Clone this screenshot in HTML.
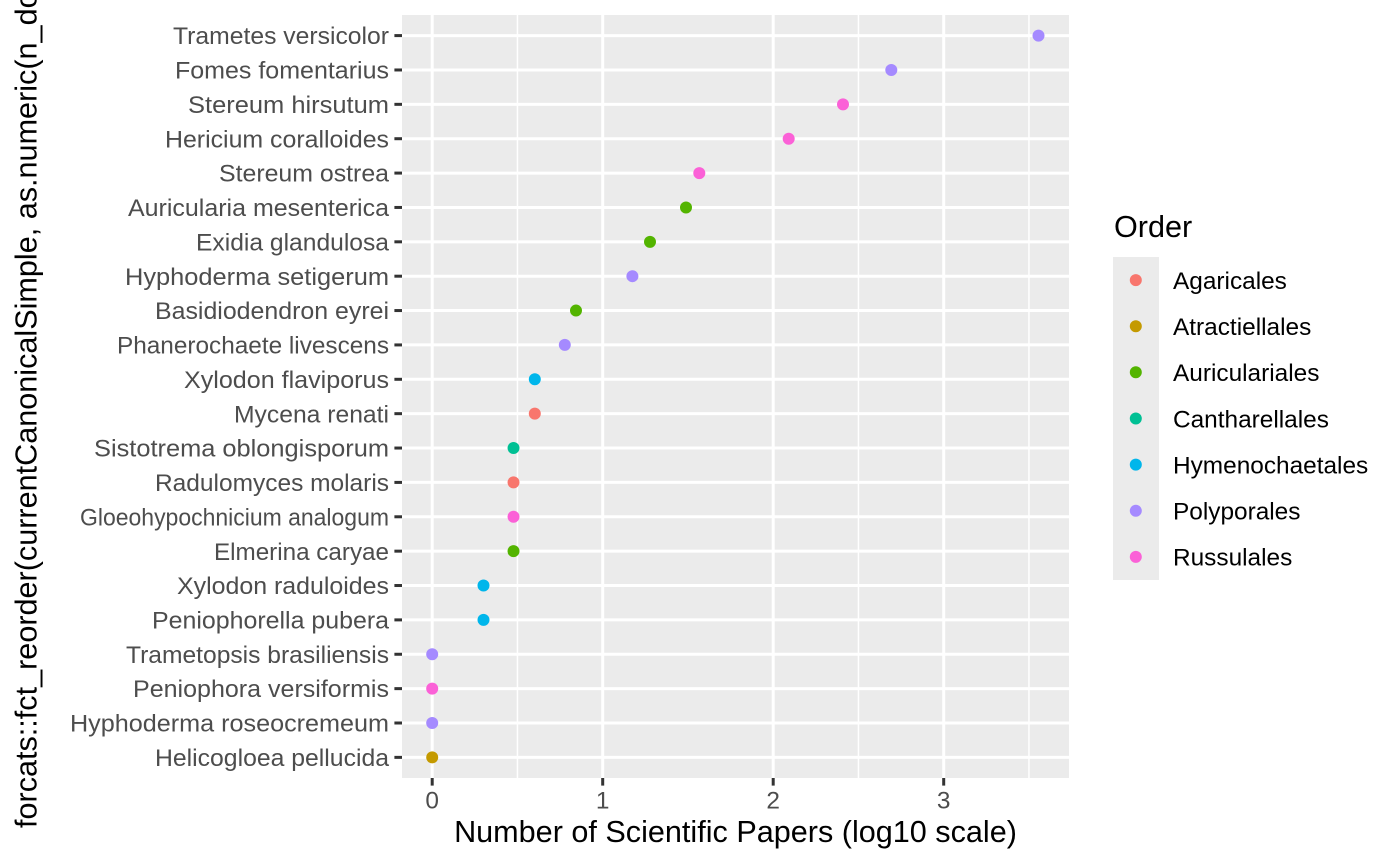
<!DOCTYPE html>
<html><head><meta charset="utf-8"><style>
html,body{margin:0;padding:0;background:#fff;}
svg{display:block;}
text{font-family:"Liberation Sans","DejaVu Sans",sans-serif;}
</style></head><body>
<svg width="1400" height="866" viewBox="0 0 1400 866" xmlns="http://www.w3.org/2000/svg">
<rect x="0" y="0" width="1400" height="866" fill="#fff"/>
<!-- panel -->
<rect x="402" y="15" width="667" height="763" fill="#EBEBEB"/>
<g stroke="#fff" stroke-width="1.5">
<line x1="517.45" y1="15" x2="517.45" y2="778"/>
<line x1="858.45" y1="15" x2="858.45" y2="778"/>
<line x1="1028.95" y1="15" x2="1028.95" y2="778"/>
</g>
<g stroke="#fff" stroke-width="3">
<line x1="432.2" y1="15" x2="432.2" y2="778"/>
<line x1="602.7" y1="15" x2="602.7" y2="778"/>
<line x1="773.2" y1="15" x2="773.2" y2="778"/>
<line x1="943.7" y1="15" x2="943.7" y2="778"/>
<line x1="402" x2="1069" y1="35.6" y2="35.6"/>
<line x1="402" x2="1069" y1="69.97" y2="69.97"/>
<line x1="402" x2="1069" y1="104.34" y2="104.34"/>
<line x1="402" x2="1069" y1="138.71" y2="138.71"/>
<line x1="402" x2="1069" y1="173.08" y2="173.08"/>
<line x1="402" x2="1069" y1="207.45" y2="207.45"/>
<line x1="402" x2="1069" y1="241.82" y2="241.82"/>
<line x1="402" x2="1069" y1="276.19" y2="276.19"/>
<line x1="402" x2="1069" y1="310.56" y2="310.56"/>
<line x1="402" x2="1069" y1="344.93" y2="344.93"/>
<line x1="402" x2="1069" y1="379.3" y2="379.3"/>
<line x1="402" x2="1069" y1="413.67" y2="413.67"/>
<line x1="402" x2="1069" y1="448.04" y2="448.04"/>
<line x1="402" x2="1069" y1="482.41" y2="482.41"/>
<line x1="402" x2="1069" y1="516.78" y2="516.78"/>
<line x1="402" x2="1069" y1="551.15" y2="551.15"/>
<line x1="402" x2="1069" y1="585.52" y2="585.52"/>
<line x1="402" x2="1069" y1="619.89" y2="619.89"/>
<line x1="402" x2="1069" y1="654.26" y2="654.26"/>
<line x1="402" x2="1069" y1="688.63" y2="688.63"/>
<line x1="402" x2="1069" y1="723" y2="723"/>
<line x1="402" x2="1069" y1="757.37" y2="757.37"/>
</g>
<!-- points -->
<g>
<circle cx="1038.5" cy="35.6" r="6" fill="#A58AFF"/>
<circle cx="891.3" cy="69.97" r="6" fill="#A58AFF"/>
<circle cx="843" cy="104.34" r="6" fill="#FB61D7"/>
<circle cx="788.7" cy="138.71" r="6" fill="#FB61D7"/>
<circle cx="699.3" cy="173.08" r="6" fill="#FB61D7"/>
<circle cx="686" cy="207.45" r="6" fill="#53B400"/>
<circle cx="650" cy="241.82" r="6" fill="#53B400"/>
<circle cx="632.4" cy="276.19" r="6" fill="#A58AFF"/>
<circle cx="576" cy="310.56" r="6" fill="#53B400"/>
<circle cx="564.8" cy="344.93" r="6" fill="#A58AFF"/>
<circle cx="534.8" cy="379.3" r="6" fill="#00B6EB"/>
<circle cx="534.8" cy="413.67" r="6" fill="#F8766D"/>
<circle cx="513.5" cy="448.04" r="6" fill="#00C094"/>
<circle cx="513.5" cy="482.41" r="6" fill="#F8766D"/>
<circle cx="513.5" cy="516.78" r="6" fill="#FB61D7"/>
<circle cx="513.5" cy="551.15" r="6" fill="#53B400"/>
<circle cx="483.5" cy="585.52" r="6" fill="#00B6EB"/>
<circle cx="483.5" cy="619.89" r="6" fill="#00B6EB"/>
<circle cx="432.2" cy="654.26" r="6" fill="#A58AFF"/>
<circle cx="432.2" cy="688.63" r="6" fill="#FB61D7"/>
<circle cx="432.2" cy="723" r="6" fill="#A58AFF"/>
<circle cx="432.2" cy="757.37" r="6" fill="#C49A00"/>
</g>
<!-- ticks -->
<g stroke="#333333" stroke-width="3">
<line x1="394.4" x2="402" y1="35.6" y2="35.6"/>
<line x1="394.4" x2="402" y1="69.97" y2="69.97"/>
<line x1="394.4" x2="402" y1="104.34" y2="104.34"/>
<line x1="394.4" x2="402" y1="138.71" y2="138.71"/>
<line x1="394.4" x2="402" y1="173.08" y2="173.08"/>
<line x1="394.4" x2="402" y1="207.45" y2="207.45"/>
<line x1="394.4" x2="402" y1="241.82" y2="241.82"/>
<line x1="394.4" x2="402" y1="276.19" y2="276.19"/>
<line x1="394.4" x2="402" y1="310.56" y2="310.56"/>
<line x1="394.4" x2="402" y1="344.93" y2="344.93"/>
<line x1="394.4" x2="402" y1="379.3" y2="379.3"/>
<line x1="394.4" x2="402" y1="413.67" y2="413.67"/>
<line x1="394.4" x2="402" y1="448.04" y2="448.04"/>
<line x1="394.4" x2="402" y1="482.41" y2="482.41"/>
<line x1="394.4" x2="402" y1="516.78" y2="516.78"/>
<line x1="394.4" x2="402" y1="551.15" y2="551.15"/>
<line x1="394.4" x2="402" y1="585.52" y2="585.52"/>
<line x1="394.4" x2="402" y1="619.89" y2="619.89"/>
<line x1="394.4" x2="402" y1="654.26" y2="654.26"/>
<line x1="394.4" x2="402" y1="688.63" y2="688.63"/>
<line x1="394.4" x2="402" y1="723" y2="723"/>
<line x1="394.4" x2="402" y1="757.37" y2="757.37"/>
<line x1="432.2" x2="432.2" y1="778" y2="785.6"/>
<line x1="602.7" x2="602.7" y1="778" y2="785.6"/>
<line x1="773.2" x2="773.2" y1="778" y2="785.6"/>
<line x1="943.7" x2="943.7" y1="778" y2="785.6"/>
</g>
<!-- y labels -->
<g fill="#4D4D4D" font-size="24.4">
<text x="173" y="44.2" textLength="216" lengthAdjust="spacingAndGlyphs">Trametes versicolor</text>
<text x="175" y="78.57" textLength="214" lengthAdjust="spacingAndGlyphs">Fomes fomentarius</text>
<text x="188" y="112.94" textLength="201" lengthAdjust="spacingAndGlyphs">Stereum hirsutum</text>
<text x="165" y="147.31" textLength="224" lengthAdjust="spacingAndGlyphs">Hericium coralloides</text>
<text x="219" y="181.68" textLength="170" lengthAdjust="spacingAndGlyphs">Stereum ostrea</text>
<text x="128" y="216.05" textLength="261" lengthAdjust="spacingAndGlyphs">Auricularia mesenterica</text>
<text x="196" y="250.42" textLength="193" lengthAdjust="spacingAndGlyphs">Exidia glandulosa</text>
<text x="125" y="284.79" textLength="264" lengthAdjust="spacingAndGlyphs">Hyphoderma setigerum</text>
<text x="155" y="319.16" textLength="234" lengthAdjust="spacingAndGlyphs">Basidiodendron eyrei</text>
<text x="117" y="353.53" textLength="272" lengthAdjust="spacingAndGlyphs">Phanerochaete livescens</text>
<text x="184" y="387.9" textLength="205" lengthAdjust="spacingAndGlyphs">Xylodon flaviporus</text>
<text x="234" y="422.27" textLength="155" lengthAdjust="spacingAndGlyphs">Mycena renati</text>
<text x="94" y="456.64" textLength="295" lengthAdjust="spacingAndGlyphs">Sistotrema oblongisporum</text>
<text x="155" y="491.01" textLength="234" lengthAdjust="spacingAndGlyphs">Radulomyces molaris</text>
<text x="80" y="525.38" textLength="309" lengthAdjust="spacingAndGlyphs">Gloeohypochnicium analogum</text>
<text x="214" y="559.75" textLength="175" lengthAdjust="spacingAndGlyphs">Elmerina caryae</text>
<text x="177" y="594.12" textLength="212" lengthAdjust="spacingAndGlyphs">Xylodon raduloides</text>
<text x="152" y="628.49" textLength="237" lengthAdjust="spacingAndGlyphs">Peniophorella pubera</text>
<text x="126" y="662.86" textLength="263" lengthAdjust="spacingAndGlyphs">Trametopsis brasiliensis</text>
<text x="133" y="697.23" textLength="256" lengthAdjust="spacingAndGlyphs">Peniophora versiformis</text>
<text x="70" y="731.6" textLength="319" lengthAdjust="spacingAndGlyphs">Hyphoderma roseocremeum</text>
<text x="155" y="765.97" textLength="234" lengthAdjust="spacingAndGlyphs">Helicogloea pellucida</text>
</g>
<!-- x labels -->
<g fill="#4D4D4D" font-size="24.4" text-anchor="middle">
<text x="432.2" y="808.5">0</text>
<text x="602.7" y="808.5">1</text>
<text x="773.2" y="808.5">2</text>
<text x="943.7" y="808.5">3</text>
</g>
<!-- axis titles -->
<text x="735.5" y="842" font-size="30.6" fill="#000" text-anchor="middle">Number of Scientific Papers (log10 scale)</text>
<text transform="translate(36.7,828) rotate(-90)" x="0" y="0" font-size="30.6" fill="#000">forcats::fct_reorder(currentCanonicalSimple, as.numeric(n_docs))</text>
<!-- legend -->
<text x="1114" y="237" font-size="30.6" fill="#000">Order</text>
<rect x="1113" y="257" width="46" height="323" fill="#EBEBEB"/>
<circle cx="1135.8" cy="280.1" r="6" fill="#F8766D"/>
<circle cx="1135.8" cy="326.2" r="6" fill="#C49A00"/>
<circle cx="1135.8" cy="372.3" r="6" fill="#53B400"/>
<circle cx="1135.8" cy="418.5" r="6" fill="#00C094"/>
<circle cx="1135.8" cy="464.6" r="6" fill="#00B6EB"/>
<circle cx="1135.8" cy="510.8" r="6" fill="#A58AFF"/>
<circle cx="1135.8" cy="556.9" r="6" fill="#FB61D7"/>
<g fill="#000" font-size="24.4">
<text x="1173" y="288.9">Agaricales</text>
<text x="1173" y="335">Atractiellales</text>
<text x="1173" y="381.1">Auriculariales</text>
<text x="1173" y="427.3">Cantharellales</text>
<text x="1173" y="473.4">Hymenochaetales</text>
<text x="1173" y="519.6">Polyporales</text>
<text x="1173" y="565.7">Russulales</text>
</g>
</svg>
</body></html>
